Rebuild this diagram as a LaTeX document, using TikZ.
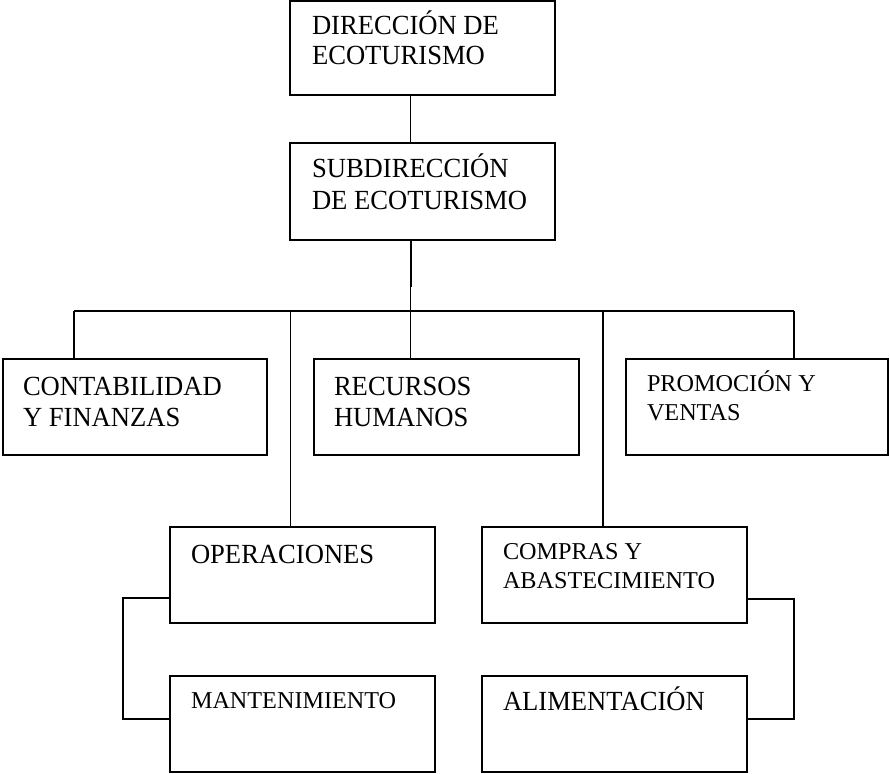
\documentclass[tikz,border=0pt]{standalone}
\usepackage{fontspec}
\setmainfont{Liberation Serif}
\usepackage{graphicx}
\newcommand{\bigtxt}[1]{\scalebox{1}[1.04]{\fontsize{26.6}{30}\selectfont #1}}
\newcommand{\smalltxt}[1]{\scalebox{1}[1.0]{\fontsize{24.2}{28}\selectfont #1}}
\begin{document}
\begin{tikzpicture}[x=1pt,y=-1pt,
  box/.style={draw=black,line width=1.4pt,rectangle,anchor=north west,inner sep=0pt,outer sep=0pt,minimum height=96pt},
  lbl/.style={anchor=base west,inner sep=0pt,outer sep=0pt,text=black},
  conn/.style={draw=black,line width=1.3pt},
  thickconn/.style={draw=black,line width=2.2pt}]
\useasboundingbox (0,0) rectangle (890,773);
% boxes
\node[box,minimum width=265pt,minimum height=94pt] (dir) at (290,1) {};
\node[box,minimum width=265pt,minimum height=97pt] (sub) at (290,143) {};
\node[box,minimum width=264pt] (cont) at (3,359) {};
\node[box,minimum width=265pt] (rec) at (314,359) {};
\node[box,minimum width=262pt] (prom) at (626,359) {};
\node[box,minimum width=265pt] (oper) at (170,527) {};
\node[box,minimum width=265pt] (comp) at (482,527) {};
\node[box,minimum width=265pt] (mant) at (170,676) {};
\node[box,minimum width=265pt] (alim) at (482,676) {};
% texts
\node[lbl] (dirA) at (312,35) {\bigtxt{DIRECCIÓN DE}};
\node[lbl] (dirB) at (312,65) {\bigtxt{ECOTURISMO}};
\node[lbl] (subA) at (312,177) {\bigtxt{SUBDIRECCIÓN}};
\node[lbl] (subB) at (312,209) {\bigtxt{DE ECOTURISMO}};
\node[lbl] (contA) at (23,395) {\bigtxt{CONTABILIDAD}};
\node[lbl] (contB) at (23,426) {\bigtxt{Y FINANZAS}};
\node[lbl] (recA) at (334,395) {\bigtxt{RECURSOS}};
\node[lbl] (recB) at (334,426) {\bigtxt{HUMANOS}};
\node[lbl] (promA) at (647,391) {\smalltxt{PROMOCIÓN Y}};
\node[lbl] (promB) at (647,420) {\smalltxt{VENTAS}};
\node[lbl] (operA) at (191,563) {\bigtxt{OPERACIONES}};
\node[lbl] (compA) at (503,559) {\smalltxt{COMPRAS Y}};
\node[lbl] (compB) at (503,588) {\smalltxt{ABASTECIMIENTO}};
\node[lbl] (mantA) at (191,708) {\smalltxt{MANTENIMIENTO}};
\node[lbl] (alimA) at (503,710) {\bigtxt{ALIMENTACIÓN}};
% bus coordinates
\coordinate (b1) at (74,311);
\coordinate (b2) at (290.7,311);
\coordinate (b3) at (410.7,311);
\coordinate (b4) at (603,311);
\coordinate (b5) at (794,311);
\coordinate (tk) at (410.7,287);
\coordinate (lk1) at (123,598);
\coordinate (lk2) at (123,719);
\coordinate (rk1) at (794,599);
\coordinate (rk2) at (794,719);
% connectors
\draw[conn] (dir.south -| b3) -- (sub.north -| b3);
\draw[thickconn] (sub.south -| b3) -- (tk);
\draw[conn] (tk) -- (b3);
\draw[conn] (b1) -- (b5);
\draw[conn] (b1) -- (cont.north -| b1);
\draw[conn] (b2) -- (oper.north -| b2);
\draw[conn] (b3) -- (rec.north -| b3);
\draw[conn] (b4) -- (comp.north -| b4);
\draw[conn] (b5) -- (prom.north -| b5);
\draw[conn] (oper.west |- lk1) -- (lk1) -- (lk2) -- (mant.west |- lk2);
\draw[conn] (comp.east |- rk1) -- (rk1) -- (rk2) -- (alim.east |- rk2);
\end{tikzpicture}
\end{document}
